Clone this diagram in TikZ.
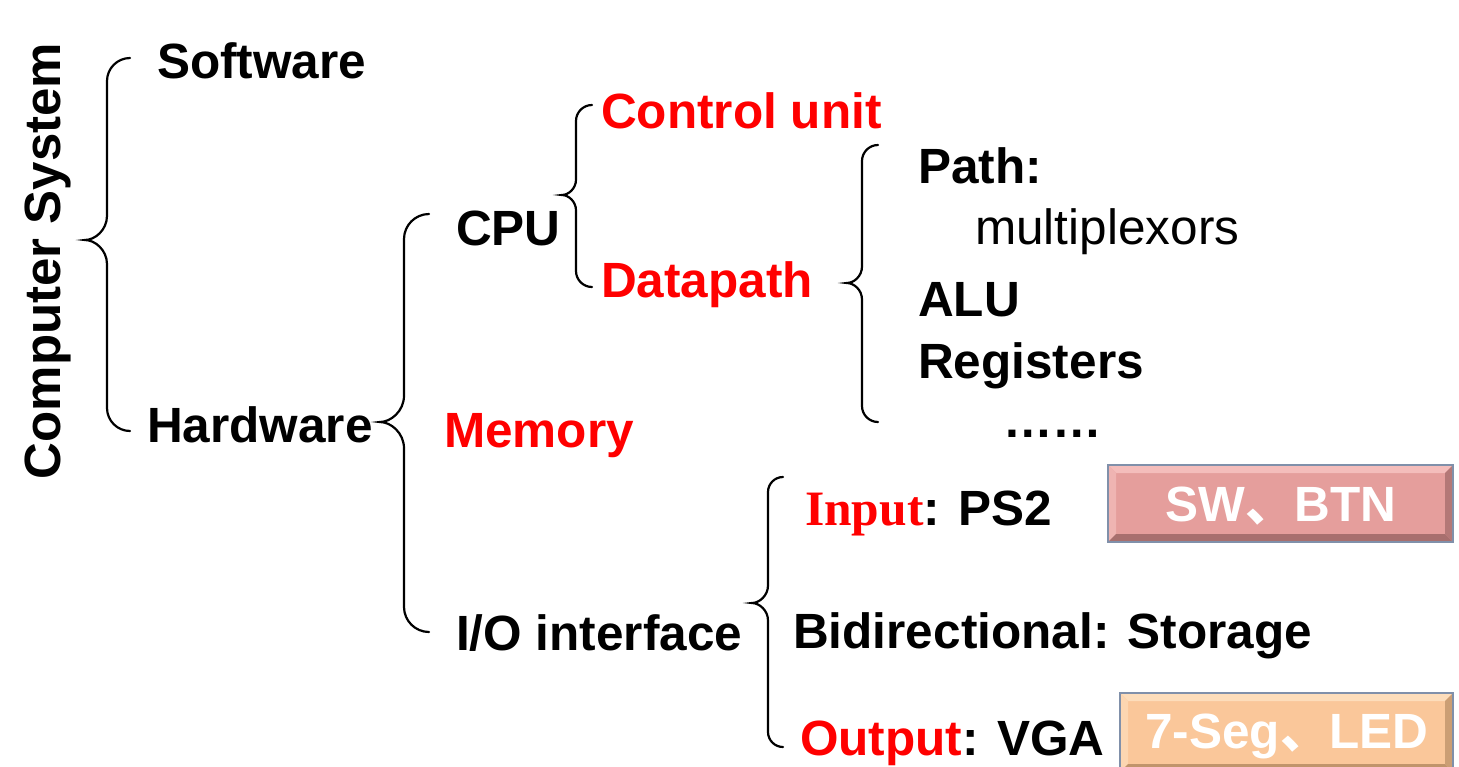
\documentclass[tikz,border=0pt]{standalone}
\usepackage{fontspec}
\setmainfont{Liberation Sans}
\newfontfamily\serifbf{Liberation Serif}
\newfontfamily\cjk{Noto Sans CJK SC}
\definecolor{tred}{HTML}{FF0000}
\definecolor{pinkbase}{HTML}{E59E9C}
\definecolor{pinklight}{HTML}{F4BDBB}
\definecolor{pinkdark}{HTML}{A86F6E}
\definecolor{peachbase}{HTML}{FAC79A}
\definecolor{peachlight}{HTML}{FDDDBB}
\definecolor{peachdark}{HTML}{C0946B}
\definecolor{boxedge}{HTML}{8090AA}
\newcommand\drawbrace[6]{%
  \draw[bracestyle] (#1,#4) .. controls ({#2+0.45*(#1-#2)},#4) and (#2,{#4+0.45*(#1-#2)}) .. (#2,{#4+(#1-#2)})
    -- (#2,{#5-1.1*(#2-#3)}) .. controls (#2,{#5-0.45*(#2-#3)}) and ({#3+0.45*(#2-#3)},#5) .. (#3,#5)
    .. controls ({#3+0.45*(#2-#3)},#5) and (#2,{#5+0.45*(#2-#3)}) .. (#2,{#5+1.1*(#2-#3)})
    -- (#2,{#6-(#1-#2)}) .. controls (#2,{#6-0.45*(#1-#2)}) and ({#2+0.45*(#1-#2)},#6) .. (#1,#6);}
\newcommand\bevelbox[8]{%
  \fill[#5] (#1,#2) rectangle (#3,#4);
  \fill[#6] (#1,#2) -- (#3,#2) -- ({#3-#8},{#2+#8}) -- ({#1+#8},{#2+#8}) -- cycle;
  \fill[#6!70!#5] (#1,#2) -- ({#1+#8},{#2+#8}) -- ({#1+#8},{#4-#8}) -- (#1,#4) -- cycle;
  \fill[#7] (#1,#4) -- (#3,#4) -- ({#3-#8},{#4-#8}) -- ({#1+#8},{#4-#8}) -- cycle;
  \fill[#7!80!#5] (#3,#2) -- (#3,#4) -- ({#3-#8},{#4-#8}) -- ({#3-#8},{#2+#8}) -- cycle;
  \draw[boxedge, line width=1.2pt] (#1,#2) rectangle (#3,#4);}
\begin{document}
\begin{tikzpicture}[x=1pt,y=-1pt,
  txt/.style={inner sep=0pt, font=\fontsize{49.5}{59}\selectfont\bfseries},
  plain/.style={inner sep=0pt, font=\fontsize{49.5}{59}\selectfont},
  redtxt/.style={txt, text=tred},
  boxtxt/.style={inner sep=0pt, text=white, font=\fontsize{49.5}{59}\selectfont\bfseries},
  bracestyle/.style={line width=2.2pt, black, line cap=round}]
\useasboundingbox (0,0) rectangle (1459,766);
\fill[white] (0,0) rectangle (1459,766);

% braces
\drawbrace{130}{107}{85}{58}{240}{431}
\drawbrace{429}{404}{380}{214}{422}{632}
\drawbrace{592}{576}{562}{105}{195}{287}
\drawbrace{878}{862}{847}{145}{283}{422}
\drawbrace{783}{768}{752}{477}{603}{747}

% texts
\node[inner sep=0pt, font=\fontsize{51}{61}\selectfont\bfseries, rotate=90, anchor=base] (cs) at (60,261) {Computer System};
\node[txt, anchor=base west] (software) at (157,78) {Software};
\node[txt, anchor=base west] (hardware) at (147,442) {Hardware};
\node[txt, anchor=base west] (cpu) at (456,245) {CPU};
\node[redtxt, anchor=base west] (memory) at (444,447) {Memory};
\node[txt, anchor=base west] (io) at (456,650) {I/O interface};
\node[redtxt, anchor=base west] (control) at (601,128) {Control unit};
\node[redtxt, anchor=base west] (datapath) at (601,297) {Datapath};
\node[txt, anchor=base west] (path) at (918,183) {Path:};
\node[plain, anchor=base west] (mux) at (975,244) {multiplexors};
\node[txt, anchor=base west] (alu) at (918,316) {ALU};
\node[txt, anchor=base west] (regs) at (918,378) {Registers};
\node[txt, anchor=base west] (dots) at (1003,437) {……};
\node[txt, anchor=base west] (input) at (805,525) {{\serifbf\bfseries\color{tred}Input}: PS2};
\node[txt, anchor=base west] (bidir) at (793,648) {Bidirectional: Storage};
\node[txt, anchor=base west] (output) at (800,755) {{\color{tred}Output}: VGA};

% boxes
\bevelbox{1108}{465}{1453}{542}{pinkbase}{pinklight}{pinkdark}{8}
\node[boxtxt] (swbtn) at (1281,506) {SW{\cjk 、}BTN};
\bevelbox{1120}{693}{1453}{772}{peachbase}{peachlight}{peachdark}{8}
\node[boxtxt] (segled) at (1287,736) {7-Seg{\cjk 、}LED};
\end{tikzpicture}
\end{document}
